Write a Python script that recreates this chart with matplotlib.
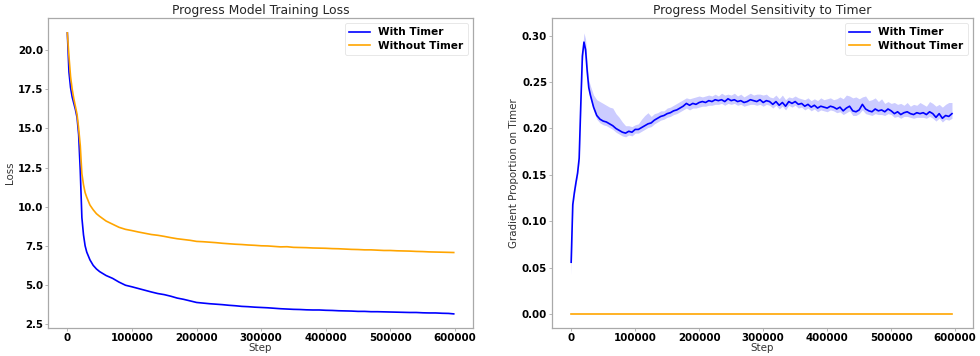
import matplotlib
matplotlib.use("Agg")
import matplotlib.pyplot as plt

#%% data
loss_steps = [0, 2500, 5000, 7500, 10000, 12500, 15000, 17500, 20000, 22500, 25000,
              27500, 30000, 35000, 40000, 45000, 50000, 60000, 70000, 80000, 90000,
              100000, 110000, 120000, 130000, 140000, 150000, 160000, 170000, 180000,
              190000, 200000, 210000, 220000, 230000, 240000, 250000, 260000, 270000,
              280000, 290000, 300000, 310000, 320000, 330000, 340000, 350000, 360000,
              370000, 380000, 390000, 400000, 410000, 420000, 430000, 440000, 450000,
              460000, 470000, 480000, 490000, 500000, 510000, 520000, 530000, 540000,
              550000, 560000, 570000, 580000, 590000, 598000]

loss_with_timer = [21.1, 18.6, 17.6, 17.0, 16.6, 16.2, 15.7, 14.6, 12.3, 9.3, 8.2,
                   7.5, 7.1, 6.6, 6.25, 6.02, 5.85, 5.6, 5.42, 5.18, 4.98,
                   4.88, 4.77, 4.66, 4.55, 4.45, 4.38, 4.28, 4.16, 4.08,
                   3.98, 3.88, 3.84, 3.80, 3.77, 3.74, 3.70, 3.67, 3.63,
                   3.61, 3.58, 3.56, 3.54, 3.51, 3.48, 3.46, 3.44, 3.43,
                   3.41, 3.40, 3.40, 3.38, 3.37, 3.35, 3.34, 3.33, 3.31,
                   3.31, 3.29, 3.29, 3.28, 3.27, 3.26, 3.25, 3.24, 3.24,
                   3.22, 3.21, 3.21, 3.19, 3.18, 3.15]

loss_without_timer = [21.1, 19.6, 18.3, 17.5, 16.9, 16.4, 15.9, 15.0, 13.9, 12.1, 11.4,
                      10.9, 10.6, 10.1, 9.8, 9.55, 9.38, 9.08, 8.88, 8.68, 8.55,
                      8.47, 8.38, 8.30, 8.22, 8.17, 8.10, 8.02, 7.95, 7.90,
                      7.85, 7.78, 7.76, 7.73, 7.70, 7.66, 7.63, 7.60, 7.58,
                      7.55, 7.53, 7.50, 7.49, 7.46, 7.43, 7.44, 7.40, 7.39,
                      7.38, 7.36, 7.35, 7.34, 7.32, 7.31, 7.29, 7.27, 7.26,
                      7.24, 7.24, 7.22, 7.20, 7.20, 7.18, 7.17, 7.16, 7.14,
                      7.13, 7.11, 7.10, 7.09, 7.08, 7.07]

sens_steps = [0, 2500, 5000, 7500, 10000, 12500, 15000, 17500, 20000, 22500, 25000,
              27500] + list(range(30000, 600000, 5000))

sens_with_timer = [0.056, 0.118, 0.131, 0.142, 0.152, 0.168, 0.225, 0.278, 0.293, 0.285, 0.262,
                   0.244, 0.236, 0.223, 0.214, 0.210, 0.208, 0.207, 0.205, 0.203, 0.200,
                   0.198, 0.196, 0.195, 0.197, 0.196, 0.199, 0.199, 0.201, 0.203, 0.205,
                   0.206, 0.209, 0.211, 0.213, 0.214, 0.216, 0.217, 0.219, 0.220, 0.222,
                   0.224, 0.227, 0.225, 0.227, 0.226, 0.228, 0.229, 0.228, 0.230, 0.229,
                   0.231, 0.230, 0.231, 0.229, 0.232, 0.230, 0.231, 0.229, 0.230, 0.228,
                   0.229, 0.231, 0.230, 0.229, 0.231, 0.228, 0.230, 0.229, 0.226, 0.229,
                   0.225, 0.228, 0.224, 0.229, 0.227, 0.229, 0.226, 0.227, 0.224, 0.226,
                   0.223, 0.225, 0.222, 0.224, 0.223, 0.222, 0.224, 0.223, 0.221, 0.223,
                   0.219, 0.222, 0.224, 0.219, 0.218, 0.220, 0.226, 0.221, 0.219, 0.218,
                   0.221, 0.219, 0.220, 0.218, 0.221, 0.219, 0.216, 0.218, 0.215, 0.217,
                   0.218, 0.216, 0.215, 0.217, 0.216, 0.217, 0.215, 0.218, 0.216, 0.212,
                   0.216, 0.211, 0.214, 0.213, 0.216]

sens_upper = [0.060, 0.121, 0.134, 0.145, 0.155, 0.172, 0.230, 0.284, 0.303, 0.296, 0.270,
              0.252, 0.246, 0.236, 0.231, 0.229, 0.227, 0.225, 0.223, 0.222, 0.216,
              0.212, 0.207, 0.203, 0.203, 0.202, 0.204, 0.205, 0.210, 0.214, 0.217,
              0.213, 0.216, 0.217, 0.219, 0.219, 0.222, 0.223, 0.225, 0.227, 0.229,
              0.231, 0.233, 0.232, 0.233, 0.234, 0.235, 0.234, 0.235, 0.236, 0.235,
              0.237, 0.235, 0.238, 0.236, 0.237, 0.236, 0.238, 0.235, 0.237, 0.234,
              0.236, 0.238, 0.236, 0.237, 0.237, 0.236, 0.237, 0.234, 0.233, 0.236,
              0.232, 0.236, 0.231, 0.234, 0.233, 0.235, 0.233, 0.232, 0.231, 0.233,
              0.230, 0.232, 0.230, 0.233, 0.231, 0.232, 0.233, 0.231, 0.232, 0.234,
              0.232, 0.236, 0.235, 0.233, 0.234, 0.232, 0.234, 0.235, 0.230, 0.231,
              0.233, 0.229, 0.232, 0.227, 0.229, 0.227, 0.228, 0.226, 0.227, 0.225,
              0.228, 0.224, 0.226, 0.225, 0.228, 0.226, 0.224, 0.229, 0.227, 0.224,
              0.226, 0.223, 0.226, 0.228, 0.228]

sens_lower = [0.042, 0.114, 0.128, 0.139, 0.149, 0.164, 0.220, 0.272, 0.286, 0.279, 0.256,
              0.240, 0.232, 0.219, 0.210, 0.206, 0.204, 0.203, 0.201, 0.199, 0.196,
              0.194, 0.192, 0.191, 0.193, 0.192, 0.195, 0.195, 0.197, 0.199, 0.201,
              0.202, 0.205, 0.207, 0.209, 0.210, 0.212, 0.213, 0.215, 0.216, 0.218,
              0.220, 0.222, 0.220, 0.222, 0.222, 0.223, 0.224, 0.224, 0.225, 0.225,
              0.226, 0.226, 0.227, 0.225, 0.227, 0.226, 0.227, 0.225, 0.226, 0.224,
              0.225, 0.226, 0.226, 0.225, 0.226, 0.224, 0.226, 0.225, 0.222, 0.225,
              0.221, 0.224, 0.220, 0.225, 0.223, 0.225, 0.222, 0.223, 0.220, 0.222,
              0.219, 0.221, 0.218, 0.220, 0.219, 0.218, 0.220, 0.219, 0.217, 0.218,
              0.215, 0.217, 0.219, 0.214, 0.214, 0.216, 0.220, 0.216, 0.215, 0.214,
              0.216, 0.215, 0.215, 0.214, 0.216, 0.215, 0.212, 0.213, 0.211, 0.213,
              0.213, 0.212, 0.211, 0.212, 0.212, 0.212, 0.211, 0.213, 0.211, 0.208,
              0.211, 0.207, 0.210, 0.209, 0.211]

sens_without_timer = [0.0] * len(sens_steps)

step_ticks = [0, 100000, 200000, 300000, 400000, 500000, 600000]

#%% plot
plt.rcParams['font.family'] = 'DejaVu Sans'
label_size = 7.4
title_size = 8.9
spine_color = '#a9a9a9'
line_w = 1.2

fig = plt.figure(figsize=(9.8, 3.56), dpi=100)
ax1 = fig.add_axes([0.049, 0.0787, 0.4337, 0.8708])
ax2 = fig.add_axes([0.5633, 0.0787, 0.4296, 0.8708])

#left: training loss
ax1.plot(loss_steps, loss_with_timer, color='blue', lw=line_w, label='With Timer')
ax1.plot(loss_steps, loss_without_timer, color='orange', lw=line_w, label='Without Timer')
ax1.set_ylim(2.25, 22.05)
ax1.set_yticks([2.5, 5.0, 7.5, 10.0, 12.5, 15.0, 17.5, 20.0])
ax1.set_title('Progress Model Training Loss', fontsize=title_size, color='#262626', pad=3)
ax1.set_ylabel('Loss', fontsize=label_size, color='#333333', labelpad=2)

#right: sensitivity to timer
ax2.fill_between(sens_steps, sens_lower, sens_upper, color='blue', alpha=0.2, lw=0)
ax2.plot(sens_steps, sens_with_timer, color='blue', lw=line_w, label='With Timer')
ax2.plot(sens_steps, sens_without_timer, color='orange', lw=line_w, label='Without Timer')
ax2.set_ylim(-0.0148, 0.319)
ax2.set_yticks([0.0, 0.05, 0.10, 0.15, 0.20, 0.25, 0.30])
ax2.set_title('Progress Model Sensitivity to Timer', fontsize=title_size, color='#262626', pad=3)
ax2.set_ylabel('Gradient Proportion on Timer', fontsize=label_size, color='#333333', labelpad=2)

for ax in (ax1, ax2):
    ax.set_xlim(-29900, 627900)
    ax.set_xticks(step_ticks)
    ax.set_xticklabels([str(t) for t in step_ticks])
    ax.set_xlabel('Step', fontsize=label_size, color='#333333', labelpad=0)
    ax.tick_params(length=2, width=0.6, color=spine_color, pad=1.5, labelsize=label_size)
    for lab in ax.get_xticklabels() + ax.get_yticklabels():
        lab.set_fontweight('bold')
    for s in ax.spines.values():
        s.set_color(spine_color)
        s.set_linewidth(0.9)
    leg = ax.legend(loc='upper right', prop={'weight': 'bold', 'size': 7.6},
                    handlelength=2.0, borderpad=0.4, labelspacing=0.3)
    leg.get_frame().set_edgecolor('#dddddd')
    leg.get_frame().set_linewidth(0.6)

ax2.set_yticklabels(['0.00', '0.05', '0.10', '0.15', '0.20', '0.25', '0.30'])

fig.savefig('out.png', dpi=100)
